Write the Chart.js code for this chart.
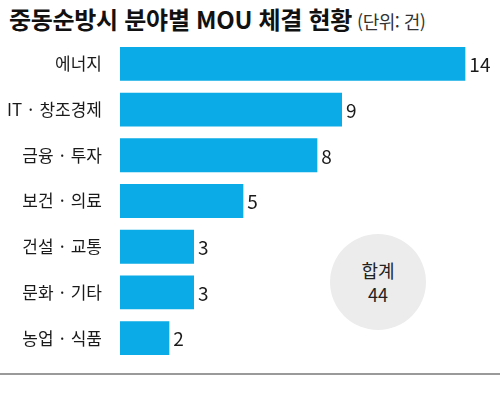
<!DOCTYPE html>
<html lang="ko">
<head>
<meta charset="utf-8">
<script src="https://cdn.jsdelivr.net/npm/chart.js@4"></script>
<style>
  html, body { margin: 0; padding: 0; background: #fff; }
  body { width: 500px; height: 399px; position: relative; overflow: hidden;
         font-family: "Noto Sans CJK KR", "Noto Sans", sans-serif; }
  #title { position: absolute; left: 9px; top: 1px; margin: 0; white-space: nowrap;
           font-size: 24px; font-weight: 700; color: #111; letter-spacing: -0.3px; }
  #title small { font-size: 18px; font-weight: 400; color: #333; letter-spacing: -0.5px; margin-left: 5px; }
  #wrap { position: absolute; left: 0; top: 0; width: 500px; height: 399px; }
  #total { position: absolute; left: 330px; top: 234px; width: 96px; height: 96px; border-radius: 50%;
           background: #ececec; color: #222; text-align: center; font-size: 18px; line-height: 24px;
           display: flex; flex-direction: column; justify-content: center; }
  #rule { position: absolute; left: 0; top: 373px; width: 500px; height: 2px; background: #9a9a9a; }
</style>
</head>
<body>
<h1 id="title">중동순방시 분야별 MOU 체결 현황<small>(단위: 건)</small></h1>
<div id="wrap"><canvas id="chart"></canvas></div>
<div id="total"><span>합계</span><span id="totalValue"></span></div>
<div id="rule"></div>
<script>
// MOU counts by sector
const categories = ["에너지", "IT · 창조경제", "금융 · 투자", "보건 · 의료", "건설 · 교통", "문화 · 기타", "농업 · 식품"];
const counts = [14, 9, 8, 5, 3, 3, 2];

const BAR = "#0aabe6";
const FONT = "'Noto Sans CJK KR', 'Noto Sans', sans-serif";

document.getElementById("totalValue").textContent = counts.reduce((a, b) => a + b, 0);

// value labels at bar ends
const valueLabels = {
  id: "valueLabels",
  afterDatasetsDraw(chart) {
    const ctx = chart.ctx;
    ctx.save();
    ctx.font = "19px " + FONT;
    ctx.fillStyle = "#1a1a1a";
    ctx.textAlign = "left";
    ctx.textBaseline = "middle";
    chart.getDatasetMeta(0).data.forEach((bar, i) => {
      ctx.fillText(String(counts[i]), bar.x + 4, bar.y + 1);
    });
    ctx.restore();
  },
};

new Chart(document.getElementById("chart").getContext("2d"), {
  type: "bar",
  data: {
    labels: categories,
    datasets: [{
      data: counts,
      backgroundColor: BAR,
      borderWidth: 0,
      categoryPercentage: 0.74,
      barPercentage: 1,
    }],
  },
  options: {
    indexAxis: "y",
    responsive: true,
    maintainAspectRatio: false,
    animation: false,
    layout: { padding: { top: 41, bottom: 38, right: 10, left: 0 } },
    plugins: { legend: { display: false }, tooltip: { enabled: false }, title: { display: false } },
    scales: {
      x: { display: false, min: 0, max: 15 },
      y: {
        grid: { display: false },
        border: { display: false },
        ticks: { color: "#1a1a1a", padding: 10, font: { family: FONT, size: 17 } },
        afterFit: axis => { axis.width = 120; },
      },
    },
  },
  plugins: [valueLabels],
});
</script>
</body>
</html>
